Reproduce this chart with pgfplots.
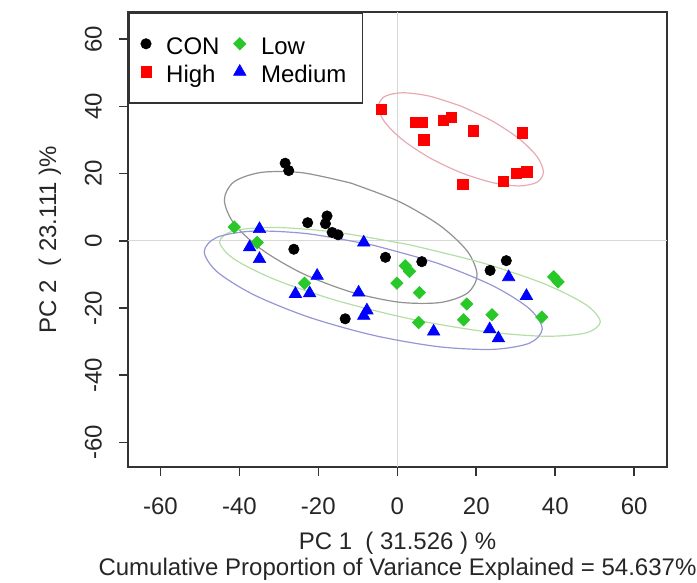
\documentclass[border=0pt]{standalone}
\usepackage{pgfplots}
\pgfplotsset{compat=1.18}
\usepackage{fontspec}
\setmainfont{Liberation Sans}

\definecolor{conline}{RGB}{145,145,145}
\definecolor{highline}{RGB}{232,170,178}
\definecolor{lowline}{RGB}{180,222,165}
\definecolor{medline}{RGB}{150,150,215}
\definecolor{lowpt}{RGB}{40,200,40}
\definecolor{zeroline}{RGB}{215,215,215}

\begin{document}
\begin{tikzpicture}
\begin{axis}[
    scale only axis,
    width=269.5pt,
    height=227.5pt,
    xmin=-68.2, xmax=68.3,
    ymin=-67.3, ymax=68.1,
    xtick={-60,-40,...,60},
    ytick={-60,-40,...,60},
    tick align=outside,
    tick pos=left,
    major tick length=4.5pt,
    axis line style={black!80, line width=0.9pt},
    tick style={black!80, line width=0.8pt},
    /pgf/number format/assume math mode=true,
    tick label style={font=\fontsize{12}{13}\selectfont, text=black!85},
    xticklabel style={yshift=-7.5pt},
    yticklabel style={rotate=90, anchor=south, yshift=5pt},
    label style={font=\fontsize{12}{13}\selectfont, text=black!85},
    xlabel={PC 1\ \ ( 31.526 ) \%\\Cumulative Proportion of Variance Explained = 54.637\%},
    xlabel style={at={(axis description cs:0.5,0)}, anchor=north, yshift=-32.5pt, inner sep=0pt, align=center},
    ylabel={PC 2\ \ ( 23.111 )\%},
    ylabel style={at={(axis description cs:0,0.5)}, anchor=center, yshift=39pt},
    legend columns=2,
    legend cell align=left,
    legend style={at={(0,1)}, anchor=north west, draw=black!80, line width=0.8pt,
        font=\fontsize{12}{13}\selectfont, inner xsep=6pt, inner ysep=8.5pt,
        nodes={inner ysep=1.25pt, inner xsep=2pt, text height=11pt, text depth=0.5pt}, row sep=0pt,
        /tikz/every odd column/.append style={column sep=5.5pt},
        /tikz/every even column/.append style={column sep=5pt}},
    clip=false
]

% zero reference lines
\addplot[zeroline, line width=0.6pt, forget plot] coordinates {(0,-67.3) (0,68.1)};
\addplot[zeroline, line width=0.6pt, forget plot] coordinates {(-68.2,0) (68.3,0)};

% ellipses
\addplot[conline, line width=0.6pt, smooth, forget plot] coordinates {
    (-11.8,17.2) (-24.06,20.26) (-34.42,20.37) (-41.37,17.55) (-43.8,12.2)
    (-41.37,5.15) (-34.42,-2.53) (-24.06,-9.68) (-11.8,-15.2) (0.46,-18.26)
    (10.82,-18.37) (17.77,-15.55) (20.2,-10.2) (17.77,-3.15) (10.82,4.53)
    (0.46,11.68) (-11.8,17.2)
};
\addplot[highline, line width=0.6pt, smooth, forget plot] coordinates {
    (16.1,40.1) (8.10,43.07) (1.32,44.06) (-3.21,42.95) (-4.8,39.9)
    (-3.21,35.37) (1.32,30.06) (8.10,24.77) (16.1,20.3) (24.10,17.33)
    (30.88,16.34) (35.41,17.45) (37.0,20.5) (35.41,25.03) (30.88,30.34)
    (24.10,35.63) (16.1,40.1)
};
\addplot[lowline, line width=0.6pt, smooth, forget plot] coordinates {
    (3.2,-1.2) (-15.26,2.52) (-30.88,3.99) (-41.34,3.01) (-45.0,-0.3)
    (-41.34,-5.41) (-30.88,-11.57) (-15.26,-17.80) (3.2,-23.2) (21.66,-26.92)
    (37.28,-28.39) (47.74,-27.41) (51.4,-24.1) (47.74,-18.99) (37.28,-12.83)
    (21.66,-6.60) (3.2,-1.2)
};
\addplot[medline, line width=0.6pt, smooth, forget plot] coordinates {
    (-6.1,-1.3) (-22.49,2.08) (-36.36,2.90) (-45.65,1.06) (-48.9,-3.2)
    (-45.65,-9.20) (-36.36,-16.04) (-22.49,-22.68) (-6.1,-28.1) (10.29,-31.48)
    (24.16,-32.30) (33.45,-30.46) (36.7,-26.2) (33.45,-20.20) (24.16,-13.36)
    (10.29,-6.72) (-6.1,-1.3)
};

% CON
\addplot[only marks, mark=*, mark size=2.6pt, mark options={draw=black, fill=black, line width=0.3pt}] coordinates {
    (-28.4,23.1) (-27.5,20.9) (-22.7,5.4) (-17.8,7.4) (-18.2,5.1)
    (-16.5,2.5) (-15.0,1.8) (-26.2,-2.5) (-3.0,-4.9) (-13.2,-23.2)
    (6.2,-6.2) (23.5,-8.8) (27.6,-5.9)
};
\addlegendentry{CON}

% Low
\addplot[only marks, mark=square*, mark size=2.2pt, mark options={rotate=45, draw=lowpt, fill=lowpt, line width=0.3pt}] coordinates {
    (-41.3,4.1) (-35.5,-0.5) (-23.5,-12.6) (2.0,-7.4) (3.1,-9.1)
    (-0.1,-12.6) (5.6,-15.4) (17.6,-18.8) (16.8,-23.5) (5.4,-24.3)
    (24.0,-22.0) (36.6,-22.7) (39.6,-10.7) (40.7,-12.2)
};
\addlegendentry{Low}

% High
\addplot[only marks, mark=square*, mark size=2.6pt, mark options={draw=red, fill=red, line width=0.3pt}] coordinates {
    (-4.1,39.2) (4.6,35.3) (6.2,35.3) (6.7,30.1) (11.6,35.8)
    (13.6,36.8) (19.3,32.8) (31.7,32.2) (16.6,16.9) (26.9,17.7)
    (30.1,20.1) (32.8,20.6)
};
\addlegendentry{High}

% Medium
\addplot[only marks, mark=triangle*, mark size=3.6pt, mark options={draw=blue, fill=blue, line width=0.3pt}] coordinates {
    (-34.9,3.5) (-37.4,-1.9) (-34.9,-5.4) (-8.5,-0.5) (-20.3,-10.4)
    (-25.8,-15.8) (-22.2,-15.6) (-9.8,-15.4) (-7.7,-20.7) (-8.5,-22.3)
    (9.2,-27.0) (28.2,-10.8) (32.7,-16.4) (23.4,-26.3) (25.6,-29.0)
};
\addlegendentry{Medium}

\coordinate (bl) at (rel axis cs:0,0);
\coordinate (tr) at (rel axis cs:1,1);
\end{axis}
\path ([xshift=-64pt,yshift=-58pt]bl) rectangle ([xshift=15pt,yshift=6pt]tr);
\end{tikzpicture}
\end{document}
